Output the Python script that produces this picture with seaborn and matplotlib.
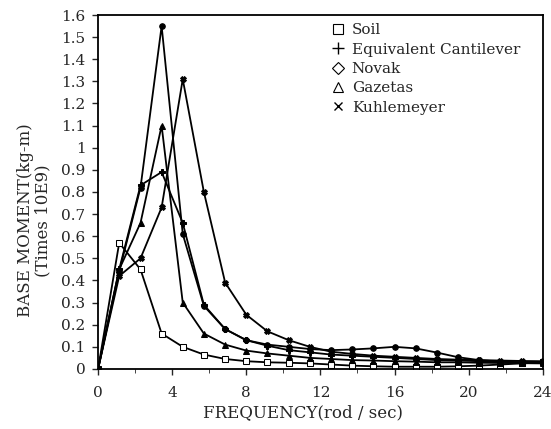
import matplotlib
matplotlib.use("Agg")
import matplotlib.pyplot as plt
from matplotlib.lines import Line2D
import numpy as np
import pandas as pd
import seaborn as sns

# frequency samples (rad/sec), 22 points from 0 to 24
frequency = [0.0, 1.14, 2.29, 3.43, 4.57, 5.71, 6.86, 8.0, 9.14, 10.29, 11.43,
             12.57, 13.71, 14.86, 16.0, 17.14, 18.29, 19.43, 20.57, 21.71, 22.86, 24.0]

soil = [0.0, 0.57, 0.45, 0.16, 0.10, 0.065, 0.045, 0.035, 0.03, 0.028, 0.025,
        0.02, 0.015, 0.012, 0.01, 0.01, 0.01, 0.012, 0.015, 0.02, 0.025, 0.03]
cantilever = [0.0, 0.45, 0.83, 0.89, 0.66, 0.29, 0.18, 0.13, 0.105, 0.085, 0.075,
              0.065, 0.06, 0.055, 0.05, 0.045, 0.04, 0.038, 0.035, 0.033, 0.03, 0.03]
novak = [0.0, 0.44, 0.82, 1.55, 0.61, 0.285, 0.18, 0.13, 0.11, 0.10, 0.09,
         0.085, 0.088, 0.093, 0.10, 0.093, 0.074, 0.053, 0.04, 0.033, 0.03, 0.03]
gazetas = [0.0, 0.45, 0.66, 1.10, 0.30, 0.16, 0.11, 0.083, 0.07, 0.06, 0.05,
           0.045, 0.04, 0.038, 0.035, 0.033, 0.03, 0.03, 0.028, 0.027, 0.026, 0.025]
kuhlemeyer = [0.0, 0.42, 0.50, 0.73, 1.31, 0.80, 0.39, 0.245, 0.17, 0.13, 0.10,
              0.078, 0.068, 0.06, 0.055, 0.05, 0.045, 0.042, 0.04, 0.038, 0.036, 0.035]

series_names = ["Soil", "Equivalent Cantilever", "Novak", "Gazetas", "Kuhlemeyer"]
series_values = [soil, cantilever, novak, gazetas, kuhlemeyer]
markers = {"Soil": "s", "Equivalent Cantilever": "P", "Novak": "o",
           "Gazetas": "^", "Kuhlemeyer": "X"}

df = pd.concat(
    [pd.DataFrame({"frequency": frequency, "moment": vals, "series": name})
     for name, vals in zip(series_names, series_values)],
    ignore_index=True,
)

sns.set_style("ticks")
plt.rcParams["font.family"] = ["DejaVu Serif"]

fig = plt.figure(figsize=(5.51, 4.29), dpi=100)
ax = fig.add_axes([0.178, 0.14, 0.807, 0.825])

sns.lineplot(data=df, x="frequency", y="moment", style="series", markers=markers,
             dashes=False, color="black", linewidth=1.3, markersize=4,
             markeredgecolor="black", ax=ax, legend=False)
# open square marker for soil
for line in ax.lines[:1]:
    line.set_markerfacecolor("white")

ax.set_xlim(0, 24)
ax.set_ylim(0, 1.6)
ax.set_xticks(np.arange(0, 25, 4))
ax.set_xticks(np.arange(0, 25, 2), minor=True)
ax.set_yticks(np.round(np.arange(0, 1.61, 0.1), 1))
ax.set_yticklabels(["0"] + [f"{v:g}" for v in np.round(np.arange(0.1, 1.61, 0.1), 1)])
ax.tick_params(axis="both", labelsize=11, direction="out", length=4, width=1)
ax.tick_params(axis="x", pad=8)
ax.tick_params(axis="y", pad=5)
ax.tick_params(axis="x", which="minor", length=3)
for spine in ax.spines.values():
    spine.set_visible(True)
    spine.set_linewidth(1.3)
    spine.set_color("black")

ax.set_xlabel("FREQUENCY(rod / sec)", fontsize=12)
ax.xaxis.set_label_coords(0.46, -0.1)
ax.set_ylabel("BASE MOMENT(kg-m)\n(Times 10E9)", fontsize=12, linespacing=1.0)
ax.yaxis.set_label_coords(-0.105, 0.42)

handles = [
    Line2D([], [], linestyle="none", marker="s", markersize=7, markerfacecolor="white",
           markeredgecolor="black", markeredgewidth=0.8),
    Line2D([], [], linestyle="none", marker="+", markersize=9, color="black",
           markeredgewidth=1.0),
    Line2D([], [], linestyle="none", marker="D", markersize=6, markerfacecolor="white",
           markeredgecolor="black", markeredgewidth=0.8),
    Line2D([], [], linestyle="none", marker="^", markersize=7, markerfacecolor="white",
           markeredgecolor="black", markeredgewidth=0.8),
    Line2D([], [], linestyle="none", marker="x", markersize=6, color="black",
           markeredgewidth=1.0),
]
ax.legend(handles, series_names, loc="upper right", frameon=False, fontsize=11,
          handlelength=1.0, handletextpad=0.4, labelspacing=0.35,
          bbox_to_anchor=(0.98, 1.015))

fig.savefig("out.png", dpi=100)
